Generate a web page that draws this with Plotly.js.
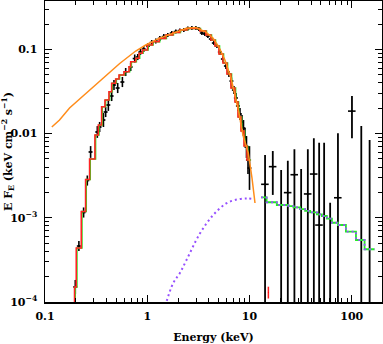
<!DOCTYPE html>
<html>
<head>
<meta charset="utf-8">
<script src="https://cdn.plot.ly/plotly-3.0.1.min.js"></script>
<style>
  html, body { margin: 0; padding: 0; background: #fff; }
  #chart { width: 383px; height: 344px; }
</style>
</head>
<body>
<div id="chart"></div>
<script>
// Soft X-ray model (red step): bin edges (keV) and E F_E levels
const modelEdges = [0.1946, 0.2022, 0.2264, 0.2495, 0.2730, 0.3078, 0.3323, 0.3580, 0.3858, 0.4221,
    0.4487, 0.4912, 0.5292, 0.5923, 0.6632, 0.6890, 0.7713, 0.8312, 0.8973, 1.005,
    1.125, 1.306, 1.518, 1.778, 2.083, 2.440, 2.857, 3.271, 3.746, 4.193,
    4.589, 5.023, 5.498, 6.017, 6.586, 7.208, 7.715, 8.256, 8.835, 9.452, 10.23];
const modelLevels = [1.51e-4, 4.38e-4, 1.19e-3, 2.85e-3, 4.99e-3, 9.62e-3, 0.01265, 0.02087, 0.02506, 0.03145,
    0.03957, 0.04452, 0.04966, 0.05434, 0.06228, 0.07143, 0.07837, 0.08988, 0.0984, 0.1128,
    0.1234, 0.1354, 0.1483, 0.1587, 0.1700, 0.1771, 0.1771, 0.1654, 0.1483, 0.1293,
    0.1098, 0.0881, 0.0690, 0.0510, 0.0348, 0.0237, 0.01574, 0.01074, 0.00712, 0.00486];

// second instrument model (green step), bin edges a touch higher
const greenEdges = [0.1973, 0.2050, 0.2296, 0.2530, 0.2768, 0.3121, 0.3370, 0.3630, 0.3912, 0.4280,
    0.4550, 0.4981, 0.5366, 0.6006, 0.6725, 0.6986, 0.7821, 0.8428, 0.9099, 1.019,
    1.141, 1.324, 1.539, 1.803, 2.112, 2.474, 2.897, 3.317, 3.798, 4.252,
    4.653, 5.093, 5.575, 6.101, 6.678, 7.309, 7.823, 8.372, 8.959, 9.584, 10.37];

// soft X-ray data points
const dataE = [0.1978, 0.2145, 0.2385, 0.2593, 0.2793, 0.3249, 0.3422, 0.3729, 0.3918, 0.4165,
    0.4487, 0.4727, 0.5138, 0.5714, 0.6155, 0.6890, 0.7543, 0.8071, 0.8577, 0.9241,
    1.018, 1.107, 1.212, 1.327, 1.452, 1.589, 1.739, 1.903, 2.083, 2.279,
    2.495, 2.731, 2.989, 3.199, 3.422, 3.662, 3.918, 4.193, 4.487, 4.802,
    5.138, 5.498, 5.884, 6.296, 6.662, 7.047, 7.372, 7.715, 8.071, 8.446,
    8.736, 9.035, 9.346, 9.667, 10.0];
const dataF = [1.51e-4, 4.62e-4, 1.156e-3, 2.77e-3, 6.05e-3, 0.01045, 0.01198, 0.0145, 0.01805, 0.02186,
    0.02796, 0.03778, 0.0348, 0.041, 0.0539, 0.0618, 0.0779, 0.0812, 0.0931, 0.1011,
    0.1098, 0.1208, 0.1259, 0.1347, 0.1423, 0.1483, 0.1566, 0.1632, 0.1677, 0.1700,
    0.1771, 0.1796, 0.1796, 0.1747, 0.1566, 0.1524, 0.1442, 0.1329, 0.1191, 0.1098,
    0.0931, 0.0769, 0.0635, 0.0510, 0.0421, 0.0329, 0.0265, 0.0213, 0.0171, 0.01373,
    0.01165, 0.00911, 0.00693, 0.00486, 0.0039];
// 1-sigma errors in dex
const dataErrDex = [0.083, 0.06, 0.06, 0.06, 0.07, 0.07, 0.06, 0.083, 0.06, 0.07,
    0.06, 0.06, 0.06, 0.06, 0.048, 0.048, 0.048, 0.036, 0.036, 0.036,
    0.036, 0.03, 0.03, 0.03, 0.03, 0.024, 0.024, 0.024, 0.024, 0.024,
    0.024, 0.024, 0.024, 0.024, 0.024, 0.024, 0.024, 0.024, 0.024, 0.024,
    0.03, 0.036, 0.036, 0.036, 0.042, 0.048, 0.06, 0.06, 0.07, 0.083,
    0.095, 0.107, 0.13, 0.166, 0.26];

// hard X-ray data: centre, upper and lower bound (below 1e-4 where the bar hits the axis)
const batE = [14.2, 16.9, 20.4, 23.7, 27.5, 32.0, 37.2, 42.6, 48.0, 53.7, 61.5, 73.3, 100.5, 124, 149.6];
const batF = [0.0025, 0.00405, 0.00142, 0.00199, 0.00325, 5e-5, 0.00192, 0.00331, 0.00082, 5e-5, 5e-5, 0.00173, 0.0185, 5e-5, 5e-5];
const batHi = [0.00557, 0.00621, 0.0037, 0.00476, 0.00652, 0.0038, 0.00652, 0.00879, 0.0078, 0.0078, 0.00151, 0.0101, 0.028, 0.0123, 0.0084];
const batLo = [1e-6, 0.00187, 1e-6, 1e-6, 1e-6, 1e-6, 1e-6, 1e-6, 1e-6, 1e-6, 1e-6, 1e-6, 0.0088, 1e-6, 1e-6];

// hard X-ray model step (green, with dotted component on top)
const batEdges = [12.96, 14.7, 18.5, 24.0, 26.9, 31.3, 35.0, 39.2, 45.6, 51.0, 57.1, 64.0, 73.2, 87.7, 110, 133.5, 167];
const batModel = [0.00175, 0.00153, 0.00142, 0.00138, 0.00133, 0.00127, 0.00121, 0.00116, 0.00110, 0.00105,
    0.000976, 0.000874, 0.000821, 0.000684, 0.000545, 0.000423];

// unabsorbed model (orange)
const unabsE = [0.1166, 0.1387, 0.1738, 0.2179, 0.2730, 0.3663, 0.5376, 0.7713, 0.9667, 1.306,
    1.778, 2.423, 2.989, 3.746, 4.387, 5.023, 5.750, 6.586, 7.208, 7.891,
    8.638, 9.732, 10.58, 11.32];
const unabsF = [0.01198, 0.0145, 0.02014, 0.02576, 0.0329, 0.04452, 0.068, 0.0957, 0.1128, 0.1354,
    0.1566, 0.1781, 0.182, 0.1609, 0.1365, 0.1068, 0.0748, 0.0457, 0.02874, 0.01757,
    0.00962, 0.00588, 0.00297, 0.0015];

// hard component (purple dotted)
const compE = [1.50, 1.79, 2.08, 2.42, 3.27, 4.42, 5.97, 7.76, 9.5, 10.9];
const compF = [9e-5, 1.67e-4, 2.2e-4, 3.15e-4, 6.5e-4, 1.08e-3, 1.49e-3, 1.66e-3, 1.70e-3, 1.67e-3];

// lone red point near 15 keV
const redPtE = [15.3];
const redPtF = [1.3e-4];
const redPtHi = [1.52e-4];
const redPtLo = [1.1e-4];

const FONT = 'DejaVu Serif, Liberation Serif, serif';

function step(edges, levels, floor) {
    const x = floor ? [edges[0]].concat(edges) : edges.slice();
    const y = (floor ? [floor] : []).concat(levels, [levels[levels.length - 1]]);
    return { x: x, y: y };
}

const redStep = step(modelEdges, modelLevels, 1e-5);
const greenStep = step(greenEdges, modelLevels, 1e-5);
const batStep = step(batEdges, batModel, null);

const data = [
    {   // soft data
        x: dataE, y: dataF, mode: 'markers', type: 'scatter',
        marker: { size: 2, color: 'black' },
        error_y: {
            type: 'data', symmetric: false,
            array: dataF.map((f, i) => f * (Math.pow(10, dataErrDex[i]) - 1)),
            arrayminus: dataF.map((f, i) => f * (1 - Math.pow(10, -dataErrDex[i]))),
            color: 'black', thickness: 1.6, width: 0
        },
        error_x: { type: 'percent', value: 4.5, color: 'black', thickness: 1.6, width: 0 }
    },
    {   // hard data
        x: batE, y: batF, mode: 'markers', type: 'scatter',
        marker: { size: 2, color: 'black' },
        error_y: {
            type: 'data', symmetric: false,
            array: batHi.map((h, i) => h - batF[i]),
            arrayminus: batLo.map((l, i) => batF[i] - l),
            color: 'black', thickness: 1.8, width: 0
        },
        error_x: { type: 'percent', value: 8.5, color: 'black', thickness: 1.6, width: 0 }
    },
    {
        x: redPtE, y: redPtF, mode: 'markers', type: 'scatter',
        marker: { size: 1, color: 'red' },
        error_y: {
            type: 'data', symmetric: false,
            array: [redPtHi[0] - redPtF[0]], arrayminus: [redPtF[0] - redPtLo[0]],
            color: '#ff2020', thickness: 1.5, width: 0
        }
    },
    {
        x: greenStep.x, y: greenStep.y, mode: 'lines', type: 'scatter',
        line: { shape: 'hv', color: '#22ee22', width: 1.6 }
    },
    {
        x: redStep.x, y: redStep.y, mode: 'lines', type: 'scatter',
        line: { shape: 'hv', color: '#ff2424', width: 1.6 }
    },
    {
        x: unabsE, y: unabsF, mode: 'lines', type: 'scatter',
        line: { color: '#ff8c1a', width: 1.5 }
    },
    {
        x: batStep.x, y: batStep.y, mode: 'lines', type: 'scatter',
        line: { shape: 'hv', color: '#22ee22', width: 1.8 }
    },
    {
        x: batStep.x, y: batStep.y, mode: 'lines', type: 'scatter',
        line: { shape: 'hv', color: '#9650ff', width: 1.8, dash: '2px,3px' }
    },
    {
        x: compE, y: compF, mode: 'lines', type: 'scatter',
        line: { color: '#9650ff', width: 2, dash: '2px,3px', shape: 'spline' }
    }
];

function minorVals(lo, hi) {
    const v = [];
    for (let d = lo; d < hi; d++) {
        for (let k = 2; k <= 9; k++) v.push(k * Math.pow(10, d));
    }
    return v;
}

const tickFont = { family: FONT, size: 11, color: 'black', weight: 'bold' };

const layout = {
    width: 383, height: 344,
    margin: { l: 45, r: 1, t: 1, b: 42 },
    paper_bgcolor: 'white', plot_bgcolor: 'white',
    showlegend: false,
    xaxis: {
        type: 'log', range: [-1, 2.296],
        tickmode: 'array', tickvals: [0.1, 1, 10, 100], ticktext: ['0.1', '1', '10', '100'],
        ticks: 'inside', ticklen: 7, tickwidth: 1, tickcolor: 'black',
        minor: { tickmode: 'array', tickvals: minorVals(-1, 3), ticks: 'inside', ticklen: 4, tickwidth: 1, tickcolor: 'black', showgrid: false },
        showline: true, linewidth: 1.5, linecolor: 'black', mirror: 'allticks',
        showgrid: false, zeroline: false, tickfont: tickFont, ticklabelstandoff: 3,
        title: { text: 'Energy (keV)', font: tickFont, standoff: 14 }
    },
    yaxis: {
        type: 'log', range: [-4, -0.425],
        tickmode: 'array', tickvals: [1e-4, 1e-3, 0.01, 0.1],
        ticktext: ['10<sup>\u22124</sup>', '10<sup>\u22123</sup>', '0.01', '0.1'],
        ticks: 'inside', ticklen: 7, tickwidth: 1, tickcolor: 'black',
        minor: { tickmode: 'array', tickvals: minorVals(-4, 0), ticks: 'inside', ticklen: 4, tickwidth: 1, tickcolor: 'black', showgrid: false },
        showline: true, linewidth: 1.5, linecolor: 'black', mirror: 'allticks',
        showgrid: false, zeroline: false, tickfont: tickFont, ticklabelstandoff: 4,
        title: { text: 'E F<sub>E</sub> (keV cm<sup>\u22122</sup> s<sup>\u22121</sup>)', font: tickFont, standoff: 4 }
    }
};

Plotly.newPlot('chart', data, layout, { displayModeBar: false, staticPlot: true });
</script>
</body>
</html>
